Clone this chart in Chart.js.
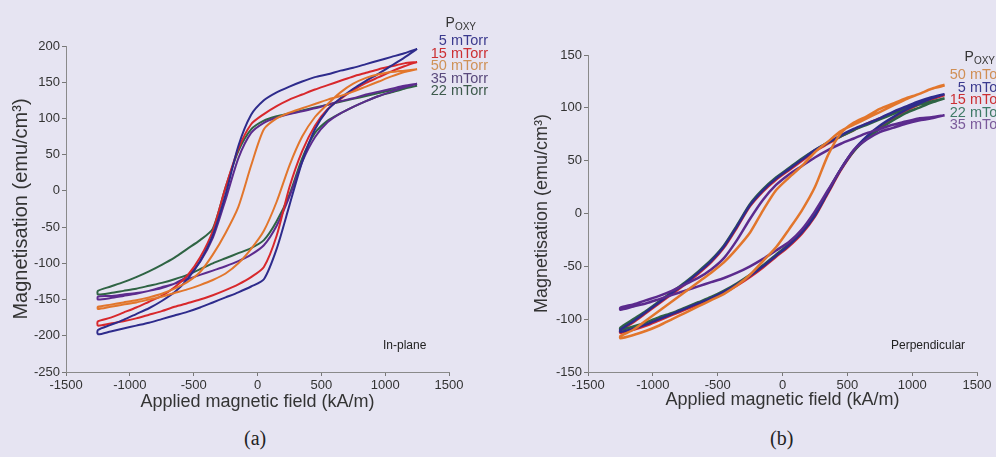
<!DOCTYPE html>
<html>
<head>
<meta charset="utf-8">
<script src="https://cdn.jsdelivr.net/npm/chart.js@4/dist/chart.umd.min.js"></script>
<style>
  body { margin: 0; width: 996px; height: 457px; overflow: hidden; position: relative;
         background: #e6e4f2; font-family: "Liberation Sans", Arial, sans-serif; color: #333; }
  canvas { position: absolute; top: 0; }
  .lbl { position: absolute; white-space: nowrap; font-size: 12px; line-height: 12px; color: #222; }
  .legend { position: absolute; text-align: right; font-size: 14.5px; line-height: 12.6px; white-space: nowrap; }
  .legend .t { font-size: 14px; color: #333; padding-right: 12px; line-height: 14px; }
  .legend sub { font-size: 10px; vertical-align: -3px; }
  .panel { position: absolute; font-family: "Liberation Serif", "DejaVu Serif", serif; font-size: 20px; color: #222; }
</style>
</head>
<body>
<canvas id="inPlane" width="500" height="420" style="left:0"></canvas>
<canvas id="perp" width="496" height="420" style="left:500px"></canvas>

<div class="legend" style="left:388px; top:15px; width:100px;">
  <div class="t">P<sub>OXY</sub></div>
  <div style="color:#3b3a8e">5 mTorr</div>
  <div style="color:#cc2f33">15 mTorr</div>
  <div style="color:#cf9258">50 mTorr</div>
  <div style="color:#5a4a7c">35 mTorr</div>
  <div style="color:#3d5a4c">22 mTorr</div>
</div>
<div class="legend" style="left:907px; top:49px; width:100px;">
  <div class="t">P<sub>OXY</sub></div>
  <div style="color:#d08f55">50 mTorr</div>
  <div style="color:#3b3a8e">5 mTorr</div>
  <div style="color:#cc2f33">15 mTorr</div>
  <div style="color:#3f7a66">22 mTorr</div>
  <div style="color:#7a5a9a">35 mTorr</div>
</div>

<div class="lbl" style="left:383px; top:339px;">In-plane</div>
<div class="lbl" style="left:891px; top:339px;">Perpendicular</div>
<div class="panel" style="left:244px; top:427px;">(a)</div>
<div class="panel" style="left:770px; top:427px;">(b)</div>

<script>
// applied field grid (kA/m), shared by every branch
const field = [-1250, -1150, -1050, -950, -850, -750, -650, -550, -450, -350, -250, -150, -50,
               50, 150, 250, 350, 450, 550, 650, 750, 850, 950, 1050, 1150, 1250];

// (a) in-plane, magnetisation in emu/cm3; "up" = branch swept down from +H, "down" = swept up from -H
const ip5Up    = [-192, -185, -178, -170, -162, -152, -140, -122, -97, -61, -5, 62, 105, 125, 136, 144, 151, 157, 161, 166, 170, 175, 180, 185, 190, 196];
const ip5Down  = [-198, -194, -190, -186, -182, -177, -172, -167, -161, -154, -147, -140, -132, -122, -80, -20, 40, 85, 112, 128, 141, 152, 162, 173, 184, 196];
const ip15Up   = [-180, -175, -168, -161, -153, -145, -133, -117, -92, -55, 5, 58, 92, 106, 117, 126, 133, 140, 146, 152, 158, 163, 168, 172, 176, 178];
const ip15Down = [-186, -183, -180, -176, -171, -166, -160, -155, -150, -144, -137, -129, -119, -105, -62, 5, 55, 90, 113, 127, 139, 149, 157, 165, 172, 178];
const ip50Up   = [-160, -157, -154, -151, -147, -142, -135, -126, -112, -88, -58, -22, 35, 85, 100, 108, 114, 120, 126, 131, 137, 144, 151, 158, 164, 168];
const ip50Down = [-163, -160, -157, -154, -150, -146, -141, -136, -130, -123, -114, -100, -80, -55, -15, 35, 75, 102, 120, 136, 148, 156, 161, 164, 166, 168];
const ip35Up   = [-146, -145, -143, -141, -138, -134, -128, -118, -98, -65, -12, 45, 80, 94, 101, 106, 110, 114, 119, 124, 128, 133, 137, 141, 145, 148];
const ip35Down = [-150, -148, -145, -142, -138, -133, -128, -122, -116, -110, -104, -97, -88, -75, -48, -8, 40, 74, 95, 107, 116, 124, 131, 137, 143, 148];
const ip22Up   = [-138, -132, -126, -119, -111, -102, -92, -80, -68, -52, 5, 55, 85, 97, 103, 107, 111, 115, 119, 123, 127, 131, 135, 139, 142, 145];
const ip22Down = [-143, -141, -138, -135, -131, -127, -122, -116, -108, -100, -93, -86, -79, -68, -42, -5, 45, 80, 97, 107, 116, 124, 131, 136, 141, 145];

// (b) perpendicular
const pp5Up    = [-110, -102, -93, -84, -75, -66, -56, -45, -31, -12, 8, 22, 33, 42, 51, 60, 67, 74, 80, 85, 90, 96, 101, 106, 110, 113];
const pp5Down  = [-112, -109, -105, -100, -95, -90, -85, -80, -74, -67, -59, -50, -40, -30, -18, -2, 20, 42, 60, 73, 83, 91, 98, 104, 109, 113];
const pp15Up   = [-111, -103, -94, -85, -76, -67, -57, -46, -32, -13, 7, 21, 32, 41, 50, 59, 66, 73, 79, 85, 90, 95, 100, 105, 109, 112];
const pp15Down = [-113, -110, -106, -101, -96, -91, -86, -81, -75, -68, -60, -51, -41, -31, -19, -3, 19, 41, 59, 72, 82, 90, 97, 103, 108, 112];
const pp22Up   = [-108, -100, -92, -83, -74, -65, -55, -44, -30, -11, 9, 23, 34, 43, 52, 60, 67, 73, 79, 84, 89, 94, 99, 103, 106, 109];
const pp22Down = [-110, -107, -103, -98, -94, -89, -84, -79, -73, -66, -58, -49, -39, -29, -17, -1, 21, 42, 59, 71, 80, 88, 95, 100, 105, 109];
const pp50Up   = [-116, -110, -101, -92, -83, -74, -65, -56, -46, -33, -18, 3, 22, 34, 45, 58, 68, 78, 84, 90, 96, 102, 108, 113, 118, 122];
const pp50Down = [-118, -115, -111, -106, -100, -94, -88, -82, -76, -68, -58, -45, -32, -15, 3, 25, 55, 76, 86, 92, 99, 104, 109, 113, 118, 121];
const pp35Up   = [-89, -86, -82, -78, -73, -67, -61, -53, -42, -25, -5, 13, 27, 37, 45, 53, 60, 66, 71, 76, 80, 84, 87, 90, 91, 93];
const pp35Down = [-91, -88, -85, -81, -77, -73, -69, -65, -61, -56, -50, -43, -35, -27, -15, 2, 22, 42, 60, 70, 77, 81, 85, 88, 90, 93];

const colors = {
  p5: '#2e2b8c',
  p15: '#d8282c',
  p50: '#e2762c',
  p35: '#5c2b8e',
  p22: '#2f6444',
};

Chart.defaults.font.family = '"Liberation Sans", Arial, sans-serif';
Chart.defaults.color = '#333';

// one closed hysteresis loop: down from +H on the upper branch, back up on the lower one
function loop(upper, lower) {
  const pts = [];
  for (let i = field.length - 1; i >= 0; i--) pts.push({ x: field[i], y: upper[i] });
  for (let i = 0; i < field.length; i++) pts.push({ x: field[i], y: lower[i] });
  return pts;
}

function series(label, color, upper, lower, width) {
  return {
    label,
    data: loop(upper, lower),
    showLine: true,
    borderColor: color,
    borderWidth: width,
    pointRadius: 0,
    tension: 0.25,
    fill: false,
  };
}

function axes(yMin, yMax, xAxisHeight, yWidth, yTitleSize) {
  const tickGrid = { display: true, drawOnChartArea: false, drawTicks: true, tickLength: 4, tickColor: '#777' };
  const plain = (v) => String(v);
  return {
    x: {
      type: 'linear', min: -1500, max: 1500,
      ticks: { stepSize: 500, maxRotation: 0, padding: 2, font: { size: 13 }, color: '#333', callback: plain },
      grid: tickGrid,
      border: { display: true, color: '#8a8a8a', width: 1 },
      title: { display: true, text: 'Applied magnetic field (kA/m)', font: { size: 18 }, color: '#333', padding: { top: 0, bottom: 4 } },
      afterFit(s) { s.height = xAxisHeight; },
    },
    y: {
      type: 'linear', min: yMin, max: yMax,
      ticks: { stepSize: 50, padding: 2, font: { size: 13 }, color: '#333', callback: plain },
      grid: tickGrid,
      border: { display: true, color: '#8a8a8a', width: 1 },
      title: { display: true, text: 'Magnetisation (emu/cm³)', font: { size: yTitleSize }, color: '#333' },
      afterFit(s) { s.width = yWidth; },
    },
  };
}

const baseOptions = {
  responsive: false,
  animation: false,
  plugins: { legend: { display: false }, tooltip: { enabled: false } },
};

new Chart(document.getElementById('inPlane'), {
  type: 'scatter',
  data: {
    datasets: [
      series('50 mTorr', colors.p50, ip50Up, ip50Down, 2),
      series('5 mTorr', colors.p5, ip5Up, ip5Down, 2),
      series('15 mTorr', colors.p15, ip15Up, ip15Down, 2),
      series('35 mTorr', colors.p35, ip35Up, ip35Down, 2),
      series('22 mTorr', colors.p22, ip22Up, ip22Down, 2),
    ],
  },
  options: {
    ...baseOptions,
    layout: { padding: { top: 46, right: 51, bottom: 3, left: 5 } },
    scales: axes(-250, 200, 45, 61, 20),
  },
});

new Chart(document.getElementById('perp'), {
  type: 'scatter',
  data: {
    datasets: [
      series('50 mTorr', colors.p50, pp50Up, pp50Down, 2.5),
      series('35 mTorr', colors.p35, pp35Up, pp35Down, 2.5),
      series('5 mTorr', colors.p5, pp5Up, pp5Down, 2.5),
      series('22 mTorr', colors.p22, pp22Up, pp22Down, 2.5),
      series('15 mTorr', colors.p15, pp15Up, pp15Down, 2.5),
    ],
  },
  options: {
    ...baseOptions,
    layout: { padding: { top: 55, right: 19, bottom: 5, left: 27 } },
    scales: axes(-150, 150, 43, 61, 18),
  },
});
</script>
</body>
</html>
